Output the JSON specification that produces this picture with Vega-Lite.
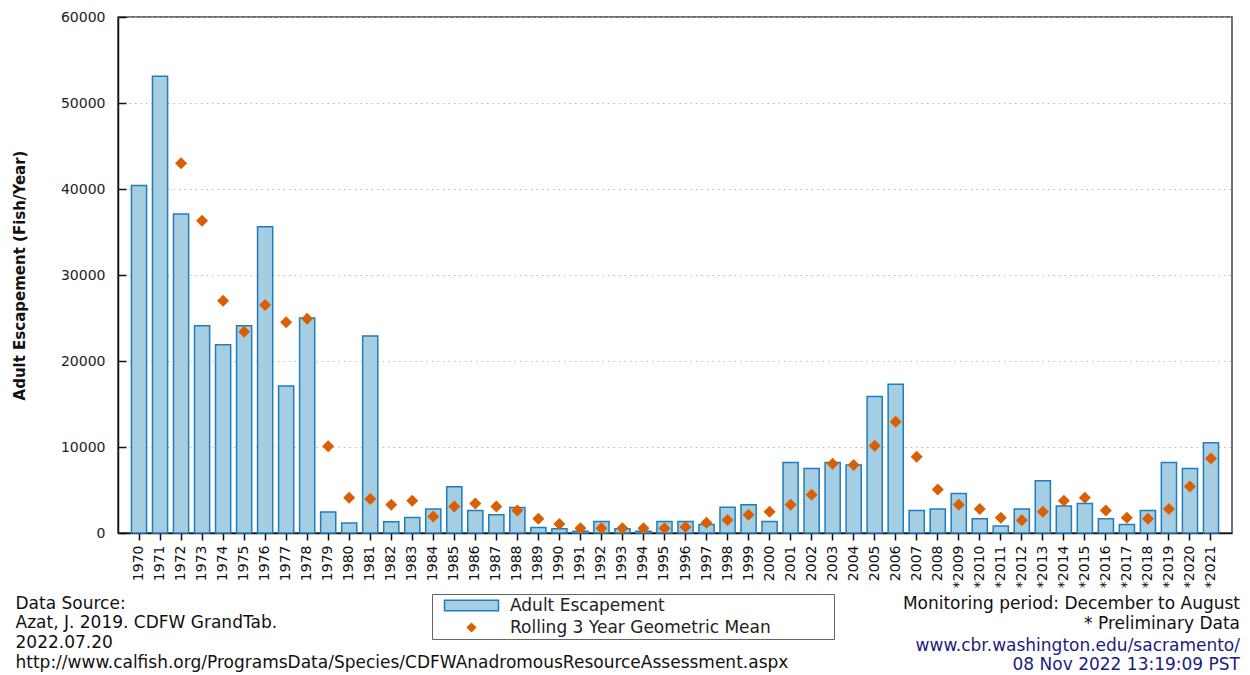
{
  "$schema": "https://vega.github.io/schema/vega-lite/v6.json",
  "autosize": "none",
  "padding": {"left": 118, "top": 17, "right": 18, "bottom": 142},
  "width": 1114,
  "height": 516,
  "background": "white",
  "data": {"values": [
    {"year": "1970", "escapement": 40400, "mean": null},
    {"year": "1971", "escapement": 53100, "mean": null},
    {"year": "1972", "escapement": 37100, "mean": 43000},
    {"year": "1973", "escapement": 24100, "mean": 36300},
    {"year": "1974", "escapement": 21900, "mean": 27000},
    {"year": "1975", "escapement": 24100, "mean": 23400},
    {"year": "1976", "escapement": 35600, "mean": 26500},
    {"year": "1977", "escapement": 17100, "mean": 24500},
    {"year": "1978", "escapement": 25000, "mean": 24900},
    {"year": "1979", "escapement": 2450, "mean": 10100},
    {"year": "1980", "escapement": 1150, "mean": 4100},
    {"year": "1981", "escapement": 22900, "mean": 3950},
    {"year": "1982", "escapement": 1300, "mean": 3290},
    {"year": "1983", "escapement": 1800, "mean": 3760},
    {"year": "1984", "escapement": 2780, "mean": 1930},
    {"year": "1985", "escapement": 5380, "mean": 3090},
    {"year": "1986", "escapement": 2620, "mean": 3440},
    {"year": "1987", "escapement": 2120, "mean": 3090},
    {"year": "1988", "escapement": 2960, "mean": 2630},
    {"year": "1989", "escapement": 650, "mean": 1660},
    {"year": "1990", "escapement": 500, "mean": 1040},
    {"year": "1991", "escapement": 190, "mean": 540},
    {"year": "1992", "escapement": 1350, "mean": 540},
    {"year": "1993", "escapement": 500, "mean": 540},
    {"year": "1994", "escapement": 190, "mean": 540},
    {"year": "1995", "escapement": 1350, "mean": 540},
    {"year": "1996", "escapement": 1350, "mean": 700},
    {"year": "1997", "escapement": 1000, "mean": 1200},
    {"year": "1998", "escapement": 2980, "mean": 1510},
    {"year": "1999", "escapement": 3290, "mean": 2130},
    {"year": "2000", "escapement": 1350, "mean": 2470},
    {"year": "2001", "escapement": 8200, "mean": 3290},
    {"year": "2002", "escapement": 7500, "mean": 4450},
    {"year": "2003", "escapement": 8200, "mean": 8050},
    {"year": "2004", "escapement": 7900, "mean": 7900},
    {"year": "2005", "escapement": 15870, "mean": 10140},
    {"year": "2006", "escapement": 17310, "mean": 12930},
    {"year": "2007", "escapement": 2630, "mean": 8860},
    {"year": "2008", "escapement": 2790, "mean": 5060},
    {"year": "2009", "escapement": 4600, "mean": 3290},
    {"year": "2010", "escapement": 1660, "mean": 2790},
    {"year": "2011", "escapement": 810, "mean": 1780},
    {"year": "2012", "escapement": 2790, "mean": 1470},
    {"year": "2013", "escapement": 6070, "mean": 2470},
    {"year": "2014", "escapement": 3140, "mean": 3750},
    {"year": "2015", "escapement": 3440, "mean": 4100},
    {"year": "2016", "escapement": 1660, "mean": 2630},
    {"year": "2017", "escapement": 1000, "mean": 1780},
    {"year": "2018", "escapement": 2630, "mean": 1660},
    {"year": "2019", "escapement": 8200, "mean": 2790},
    {"year": "2020", "escapement": 7500, "mean": 5410},
    {"year": "2021", "escapement": 10490, "mean": 8660}
  ]},
  "title": {
    "text": ["Monitoring period: December to August", "* Preliminary Data"],
    "subtitle": ["www.cbr.washington.edu/sacramento/", "08 Nov 2022 13:19:09 PST"],
    "orient": "bottom",
    "anchor": "end",
    "frame": "group",
    "align": "right",
    "dx": 8,
    "offset": -74,
    "font": "DejaVu Sans",
    "fontSize": 17,
    "fontWeight": "normal",
    "color": "#111111",
    "lineHeight": 19.5,
    "subtitleFont": "DejaVu Sans",
    "subtitleFontSize": 17,
    "subtitleColor": "#1c1c80",
    "subtitleLineHeight": 19.5,
    "subtitlePadding": 5
  },
  "encoding": {
    "x": {
      "field": "year",
      "type": "ordinal",
      "scale": {"paddingInner": 0.28, "paddingOuter": 0.64},
      "axis": {
        "labelAngle": 270,
        "labelExpr": "toNumber(datum.value) >= 2009 ? '*' + datum.value : datum.value",
        "labelFont": "DejaVu Sans",
        "labelFontSize": 14,
        "labelColor": "#111111",
        "labelPadding": 5,
        "tickSize": 7,
        "tickColor": "#111111",
        "tickWidth": 1.5,
        "domainColor": "#111111",
        "domainWidth": 1.5,
        "grid": false,
        "title": ["Data Source:", "Azat, J. 2019. CDFW GrandTab.", "2022.07.20", "http://www.calfish.org/ProgramsData/Species/CDFWAnadromousResourceAssessment.aspx"],
        "titleFont": "DejaVu Sans",
        "titleFontSize": 17,
        "titleFontWeight": "normal",
        "titleColor": "#111111",
        "titleLineHeight": 19.7,
        "titleAnchor": "start",
        "titleAlign": "left",
        "titleBaseline": "top",
        "titleX": -103,
        "titleY": 62
      }
    }
  },
  "layer": [
    {
      "mark": {"type": "bar", "strokeWidth": 1.5},
      "encoding": {
        "y": {
          "field": "escapement",
          "type": "quantitative",
          "title": "Adult Escapement (Fish/Year)",
          "scale": {"domain": [0, 60000], "nice": false},
          "axis": {"values": [0, 10000, 20000, 30000, 40000, 50000, 60000], "format": "d"}
        },
        "color": {
          "datum": "Adult Escapement",
          "scale": {"domain": ["Adult Escapement", "Rolling 3 Year Geometric Mean"], "range": ["#a6cee3", "#d95f02"]},
          "legend": {"title": "MMMM"}
        },
        "stroke": {
          "datum": "Adult Escapement",
          "scale": {"domain": ["Adult Escapement", "Rolling 3 Year Geometric Mean"], "range": ["#1f7dbf", "#d95f02"]},
          "legend": {"title": "MMMM"}
        }
      }
    },
    {
      "mark": {"type": "point", "filled": true, "size": 144, "opacity": 1, "strokeWidth": 0},
      "encoding": {
        "y": {"field": "mean", "type": "quantitative", "title": "Adult Escapement (Fish/Year)"},
        "color": {
          "datum": "Rolling 3 Year Geometric Mean",
          "legend": {"title": "MMMM"}
        },
        "stroke": {
          "datum": "Rolling 3 Year Geometric Mean",
          "legend": {"title": "MMMM"}
        },
        "shape": {
          "datum": "Rolling 3 Year Geometric Mean",
          "scale": {"domain": ["Adult Escapement", "Rolling 3 Year Geometric Mean"], "range": ["M-6.75,-1.3H6.75V1.3H-6.75Z", "M0,-1L1,0L0,1L-1,0Z"]},
          "legend": {"title": "MMMM"}
        }
      }
    }
  ],
  "config": {
    "view": {"stroke": "#444444", "strokeWidth": 1.5},
    "legend": {
      "orient": "none",
      "legendX": 314,
      "legendY": 577,
      "direction": "vertical",
      "strokeColor": "#666666",
      "fillColor": "white",
      "padding": 3,
      "symbolSize": 64,
      "symbolOffset": 28,
      "symbolStrokeWidth": 1.5,
      "symbolOpacity": 1,
      "labelOffset": 30,
      "labelFont": "DejaVu Sans",
      "labelFontSize": 17,
      "labelColor": "#222222",
      "labelLimit": 600,
      "rowPadding": 4,
      "titleOrient": "right",
      "titlePadding": 1,
      "titleFont": "DejaVu Sans",
      "titleFontSize": 17,
      "titleFontWeight": "normal",
      "titleColor": "transparent",
      "titleAngle": 0
    },
    "axisY": {
      "labelFont": "DejaVu Sans",
      "labelFontSize": 14,
      "labelColor": "#222222",
      "labelPadding": 21,
      "tickSize": -8,
      "tickColor": "#111111",
      "tickWidth": 1.5,
      "domainColor": "#111111",
      "domainWidth": 1.5,
      "grid": true,
      "gridColor": "#bbbbbb",
      "gridDash": [1.5, 4],
      "gridWidth": 1,
      "titleFont": "DejaVu Sans",
      "titleFontSize": 15,
      "titleFontWeight": "bold",
      "titleColor": "#111111",
      "titleX": -99,
      "titleY": 258,
      "titleAlign": "center",
      "titleBaseline": "middle",
      "titleAngle": 270
    }
  }
}
